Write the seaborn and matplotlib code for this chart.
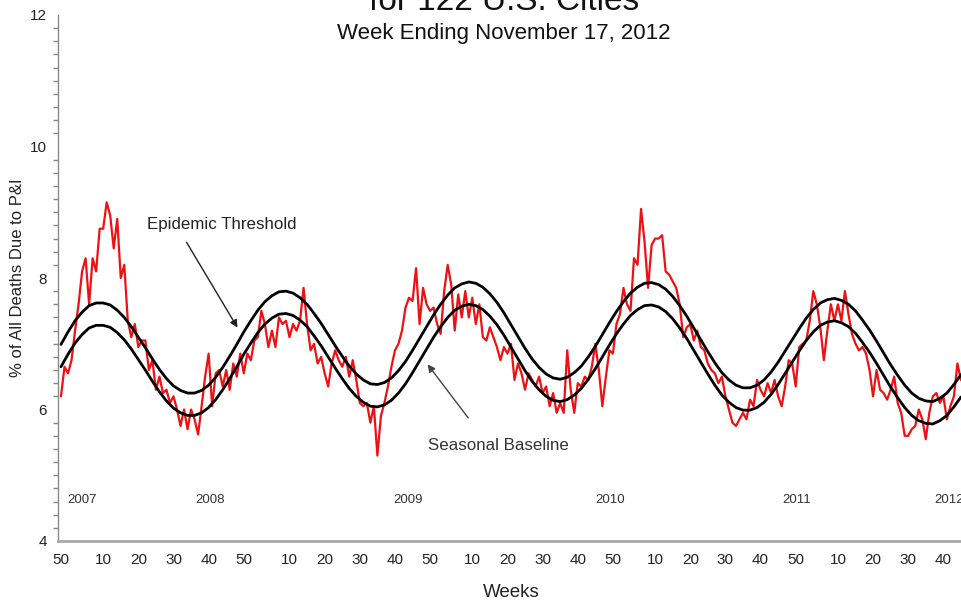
import numpy as np
import pandas as pd
import seaborn as sns
import matplotlib
matplotlib.use("Agg")
from matplotlib import pyplot as plt
from matplotlib.ticker import MultipleLocator

# weekly % of deaths due to P&I, first point = week 50 of 2007
pi_pct = [
    6.2, 6.65, 6.55, 6.75, 7.2, 7.6, 8.1, 8.3, 7.6, 8.3,
    8.1, 8.75, 8.75, 9.15, 8.95, 8.45, 8.9, 8.0, 8.2, 7.35,
    7.1, 7.3, 6.95, 7.05, 7.05, 6.6, 6.75, 6.3, 6.5, 6.25,
    6.3, 6.1, 6.2, 6.0, 5.75, 6.0, 5.7, 6.0, 5.85, 5.62,
    6.05, 6.5, 6.85, 6.05, 6.55, 6.6, 6.35, 6.6, 6.3, 6.7,
    6.5, 6.85, 6.55, 6.85, 6.75, 7.05, 7.1, 7.5, 7.3, 6.95,
    7.2, 6.95, 7.4, 7.3, 7.35, 7.1, 7.3, 7.2, 7.35, 7.85,
    7.3, 6.9, 7.0, 6.7, 6.8, 6.55, 6.35, 6.7, 6.9, 6.75,
    6.65, 6.8, 6.5, 6.75, 6.45, 6.1, 6.05, 6.1, 5.8, 6.05,
    5.3, 5.9, 6.1, 6.35, 6.65, 6.9, 7.0, 7.2, 7.55, 7.7,
    7.65, 8.15, 7.3, 7.85, 7.6, 7.5, 7.55, 7.3, 7.15, 7.8,
    8.2, 7.9, 7.2, 7.75, 7.4, 7.8, 7.4, 7.7, 7.3, 7.6,
    7.1, 7.05, 7.25, 7.1, 6.95, 6.75, 6.95, 6.85, 7.0, 6.45,
    6.7, 6.55, 6.3, 6.55, 6.45, 6.35, 6.5, 6.25, 6.35, 6.05,
    6.25, 5.95, 6.1, 5.95, 6.9, 6.3, 5.95, 6.4, 6.35, 6.5,
    6.45, 6.65, 7.0, 6.6, 6.05, 6.5, 6.9, 6.85, 7.3, 7.45,
    7.85, 7.6, 7.5, 8.3, 8.2, 9.05, 8.55, 7.85, 8.5, 8.6,
    8.6, 8.65, 8.1, 8.05, 7.95, 7.85, 7.6, 7.1, 7.25, 7.3,
    7.05, 7.2, 6.95, 6.9, 6.7, 6.6, 6.55, 6.4, 6.5, 6.2,
    6.0, 5.8, 5.75, 5.85, 5.95, 5.85, 6.15, 6.05, 6.45, 6.3,
    6.2, 6.4, 6.25, 6.45, 6.2, 6.05, 6.35, 6.75, 6.7, 6.35,
    6.95, 7.0, 7.05, 7.35, 7.8, 7.6, 7.25, 6.75, 7.2, 7.6,
    7.35, 7.6, 7.35, 7.8, 7.45, 7.15, 7.0, 6.9, 6.95, 6.85,
    6.6, 6.2, 6.6, 6.3, 6.25, 6.15, 6.3, 6.5, 6.1, 5.95,
    5.6, 5.6, 5.7, 5.75, 6.0, 5.85, 5.55, 5.95, 6.2, 6.25,
    6.1, 6.2, 5.85, 6.05, 6.2, 6.7, 6.45, 6.4,
]

# seasonal baseline and epidemic threshold, read every 2 weeks
curve_step = 2
baseline = [
    6.65, 6.84, 7.01, 7.14, 7.24, 7.28, 7.28, 7.25, 7.17, 7.06,
    6.92, 6.76, 6.60, 6.43, 6.27, 6.13, 6.02, 5.95, 5.91, 5.91,
    5.95, 6.03, 6.15, 6.30, 6.47, 6.65, 6.84, 7.01, 7.17, 7.30,
    7.39, 7.45, 7.46, 7.43, 7.36, 7.26, 7.12, 6.97, 6.80, 6.63,
    6.47, 6.32, 6.20, 6.11, 6.05, 6.04, 6.07, 6.14, 6.25, 6.39,
    6.56, 6.74, 6.92, 7.10, 7.26, 7.40, 7.51, 7.57, 7.60, 7.58,
    7.52, 7.42, 7.29, 7.13, 6.95, 6.77, 6.59, 6.43, 6.30, 6.20,
    6.14, 6.12, 6.15, 6.22, 6.32, 6.46, 6.62, 6.80, 6.98, 7.15,
    7.30, 7.43, 7.52, 7.58, 7.59, 7.56, 7.49, 7.38, 7.24, 7.08,
    6.90, 6.72, 6.54, 6.37, 6.22, 6.11, 6.03, 5.99, 5.99, 6.03,
    6.11, 6.23, 6.38, 6.55, 6.72, 6.89, 7.05, 7.18, 7.28, 7.33,
    7.35, 7.32, 7.26, 7.16, 7.02, 6.87, 6.70, 6.52, 6.34, 6.18,
    6.03, 5.91, 5.83, 5.79, 5.78, 5.83, 5.91, 6.04, 6.19,
]
threshold = [
    6.99, 7.18, 7.35, 7.48, 7.58, 7.62, 7.62, 7.59, 7.51, 7.40,
    7.26, 7.10, 6.94, 6.77, 6.61, 6.47, 6.36, 6.29, 6.25, 6.25,
    6.29, 6.37, 6.49, 6.64, 6.81, 6.99, 7.18, 7.35, 7.51, 7.64,
    7.73, 7.79, 7.80, 7.77, 7.70, 7.60, 7.46, 7.31, 7.14, 6.97,
    6.81, 6.66, 6.54, 6.45, 6.39, 6.38, 6.41, 6.48, 6.59, 6.73,
    6.90, 7.08, 7.26, 7.44, 7.60, 7.74, 7.85, 7.91, 7.94, 7.92,
    7.86, 7.76, 7.63, 7.47, 7.29, 7.11, 6.93, 6.77, 6.64, 6.54,
    6.48, 6.46, 6.49, 6.56, 6.66, 6.80, 6.96, 7.14, 7.32, 7.49,
    7.64, 7.77, 7.86, 7.92, 7.93, 7.90, 7.83, 7.72, 7.58, 7.42,
    7.24, 7.06, 6.88, 6.71, 6.56, 6.45, 6.37, 6.33, 6.33, 6.37,
    6.45, 6.57, 6.72, 6.89, 7.06, 7.23, 7.39, 7.52, 7.62, 7.67,
    7.69, 7.66, 7.60, 7.50, 7.36, 7.21, 7.04, 6.86, 6.68, 6.52,
    6.37, 6.25, 6.17, 6.13, 6.12, 6.17, 6.25, 6.38, 6.53,
]

# (year, first week shown, last week shown)
year_span = [(2007, 50, 52), (2008, 1, 53), (2009, 1, 52),
             (2010, 1, 52), (2011, 1, 52), (2012, 1, 46)]
year_labels = ['2007', '2008', '2009', '2010', '2011', '2012']
year_label_pos = [1.7, 38.1, 94.4, 151.9, 205.3, 248.3]

week_no = []
for yr, first, last in year_span:
    week_no += list(range(first, last + 1))

df = pd.DataFrame({'idx': np.arange(len(pi_pct)), 'pct': pi_pct})
curves = pd.DataFrame({'idx': np.arange(len(baseline)) * curve_step,
                       'baseline': baseline, 'threshold': threshold})

sns.set_style("white")
plt.rcParams['font.family'] = ['Liberation Sans', 'DejaVu Sans']

fig = plt.figure(figsize=(9.62, 6.03), dpi=100)
ax = fig.add_axes([58 / 962, 62 / 603, 904 / 962, 526 / 603])

sns.lineplot(data=df, x='idx', y='pct', color='#ee1111', lw=1.6, ax=ax)
sns.lineplot(data=curves, x='idx', y='threshold', color='black', lw=2.0, ax=ax)
sns.lineplot(data=curves, x='idx', y='baseline', color='black', lw=2.0, ax=ax)

ax.set_xlim(-0.85, 256.3)
ax.set_ylim(4, 12)

# x ticks every 10th week, labelled with the week number
tick_idx = [i for i, w in enumerate(week_no) if w % 10 == 0]
ax.set_xticks(tick_idx)
ax.set_xticklabels([str(week_no[i]) for i in tick_idx])
ax.set_yticks([4, 6, 8, 10, 12])
ax.yaxis.set_minor_locator(MultipleLocator(0.2))

ax.tick_params(axis='x', length=0, pad=9, labelsize=11, labelcolor='#222222')
ax.tick_params(axis='y', which='major', direction='out', length=5, width=1,
               color='#888888', labelsize=11, labelcolor='#222222', pad=3)
ax.tick_params(axis='y', which='minor', direction='out', length=3.5, width=1,
               color='#888888', left=True)

for s in ['top', 'right']:
    ax.spines[s].set_visible(False)
ax.spines['left'].set_color('#8a8a8a')
ax.spines['left'].set_linewidth(1)
ax.spines['bottom'].set_color('#a8a8a8')
ax.spines['bottom'].set_linewidth(2)

ax.set_ylabel('% of All Deaths Due to P&I', fontsize=12, color='#222222')
ax.yaxis.set_label_coords(-0.036, 0.5)
ax.set_xlabel('Weeks', fontsize=13.5, color='#222222')
ax.xaxis.set_label_coords(0.501, -0.082)

for lab, pos in zip(year_labels, year_label_pos):
    ax.text(pos, 4.62, lab, fontsize=9.5, va='center', ha='left', color='#333333')

ax.text(24.5, 8.81, 'Epidemic Threshold', fontsize=12.2, va='center', color='#222222')
ax.annotate('', xy=(50.6, 7.21), xytext=(35.3, 8.58),
            arrowprops=dict(arrowstyle='-|>', color='#222222', lw=1, mutation_scale=11))
ax.text(104.4, 5.445, 'Seasonal Baseline', fontsize=12.2, va='center', color='#333333')
ax.annotate('', xy=(103.8, 6.72), xytext=(116.3, 5.84),
            arrowprops=dict(arrowstyle='-|>', color='#444444', lw=1, mutation_scale=11))

fig.text(504 / 962, 1 - 10 / 603, 'for 122 U.S. Cities', ha='center', va='baseline',
         fontsize=24, color='#111111')
fig.text(504 / 962, 1 - 33 / 603, 'Week Ending November 17, 2012', ha='center',
         va='center', fontsize=16, color='#111111')

fig.savefig('out.png', dpi=100)
